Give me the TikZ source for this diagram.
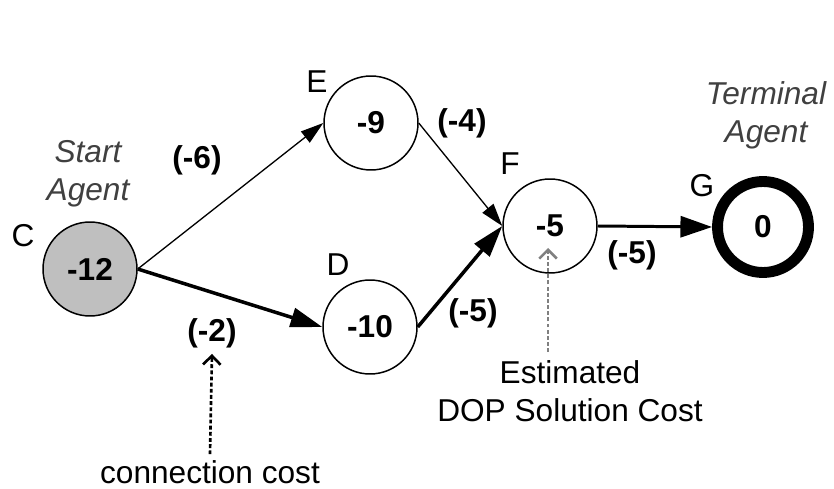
\documentclass[tikz,border=0pt]{standalone}
\usepackage{fontspec}
\setmainfont{Liberation Sans}
\usetikzlibrary{arrows.meta}

\begin{document}
\begin{tikzpicture}[x=0.02cm, y=-0.02cm,
	every node/.style={font=\fontsize{18}{21.5}\selectfont},
	agent/.style={circle, draw, line width=0.85pt, minimum size=1.88cm, inner sep=0pt, font=\fontsize{18}{21.5}\selectfont\bfseries},
	cost/.style={font=\fontsize{18}{21.5}\selectfont\bfseries},
	role/.style={align=center, text=black!75, font=\fontsize{18}{21.5}\selectfont\itshape},
	thinlink/.style={line width=0.75pt, -{Triangle[length=13pt,width=8pt]}},
	thicklink/.style={line width=2pt, -{Triangle[length=18pt,width=11pt]}},
	note/.style={line width=1.5pt, dash pattern=on 2.2pt off 1.3pt, -{Straight Barb[length=5pt,width=10pt]}}]
		\useasboundingbox (0,0) rectangle (834,489);
		% agents
		\node[agent, fill=black!25] (C) at (90,269) {-12};
		\node[agent] (E) at (371,123) {-9};
		\node[agent] (D) at (370,327) {-10};
		\node[agent] (F) at (550,226) {-5};
		\node[agent, line width=6.2pt, minimum size=1.82cm] (G) at (763,227) {0};
		\node (nameC) at (23,236) {C};
		\node (nameE) at (317,82) {E};
		\node (nameD) at (338,265) {D};
		\node (nameF) at (510,164) {F};
		\node (nameG) at (702,186) {G};
		\node[role] (start) at (88,174) {Start\\Agent};
		\node[role] (term) at (766,115) {Terminal\\Agent};
		% links
		\draw[thinlink] (C.east) -- (E.west);
		\draw[thicklink] (C.east) -- (D.west);
		\draw[thinlink] (E.east) -- (F.west);
		\draw[thicklink] (D.east) -- (F.west);
		\draw[line width=1.7pt, -{Triangle[length=18pt,width=12pt]}] (F.east) -- (G.west);
		\node[cost] (cCE) at (197,160) {(-6)};
		\node[cost] (cCD) at (212,333) {(-2)};
		\node[cost] (cEF) at (462,123) {(-4)};
		\node[cost] (cDF) at (473,313) {(-5)};
		\node[cost] (cFG) at (632,255) {(-5)};
		% notes
		\node (conn) at (210,472) {connection cost};
		\node[align=center] (est) at (570,391) {Estimated\\DOP Solution Cost};
		\draw[note] (conn.north) -- (cCD.south);
		\coordinate (estfoot) at (548,352);
		\coordinate (esttip) at (548,248);
		\draw[note, draw=black!50] (estfoot) -- (esttip);
\end{tikzpicture}
\end{document}
